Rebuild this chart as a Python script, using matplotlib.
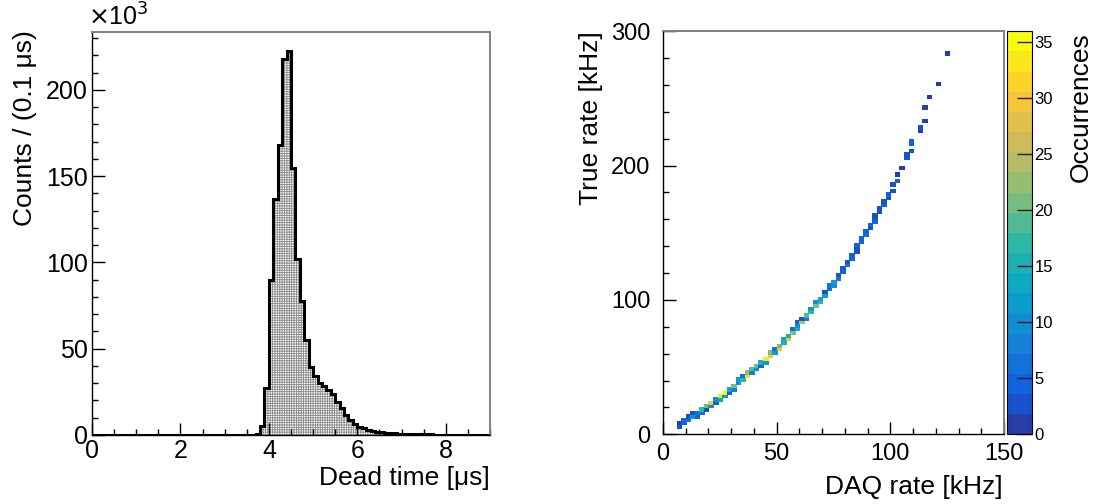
import numpy as np
import matplotlib
matplotlib.use("Agg")
import matplotlib.pyplot as plt
from matplotlib.colors import LinearSegmentedColormap, ListedColormap, BoundaryNorm
from matplotlib.ticker import MultipleLocator

plt.rcParams['font.family'] = ['Liberation Sans', 'DejaVu Sans']
plt.rcParams['hatch.linewidth'] = 0.6

# ---------------- data: left histogram (counts in thousands per 0.1 us bin, 0..9 us)
dead_time_edges = np.round(np.arange(0, 9.0001, 0.1), 2)
dead_time_counts_k = [0.0] * 37 + [
    0.4, 5.0, 27.0, 90.0, 136.5, 168.0, 218.0, 222.6, 154.5, 102.0,
    77.8, 55.0, 39.5, 34.0, 30.0, 28.4, 26.0, 23.6, 19.3, 15.4,
    11.6, 8.7, 6.4, 4.8, 3.9, 2.9, 2.5, 2.0, 1.6, 1.4,
    1.2, 1.0, 0.8, 0.7, 0.6, 0.5, 0.45, 0.4, 0.35, 0.3,
    0.27, 0.24, 0.2, 0.18, 0.16, 0.14, 0.12, 0.1, 0.09, 0.08,
    0.07, 0.06, 0.05]

# ---------------- data: right 2D histogram cells (bin centres, occurrences)
daq_rate = [7, 7, 9, 9, 11, 11, 13, 13, 15, 15,
            17, 17, 19, 19, 21, 21, 23, 23, 25, 25,
            27, 27, 29, 29, 31, 31, 33, 33, 35, 35,
            37, 37, 39, 39, 41, 41, 43, 43, 45, 45,
            47, 47, 49, 49, 51, 51, 53, 53, 55, 55,
            57, 57, 59, 59, 59, 61, 61, 63, 63, 65,
            65, 67, 67, 69, 69, 71, 71, 73, 73, 75,
            75, 77, 77, 79, 79, 81, 81, 83, 83, 85,
            85, 85, 87, 87, 89, 89, 91, 91, 93, 93,
            93, 95, 95, 97, 97, 99, 99, 101, 101, 103,
            103, 105, 107, 107, 109, 109, 109, 113, 113, 115,
            115, 117, 121, 125]
true_rate = [6.25, 8.75, 8.75, 11.25, 11.25, 13.75, 13.75, 16.25, 16.25, 13.75,
             18.75, 16.25, 18.75, 21.25, 23.75, 21.25, 26.25, 23.75, 26.25, 28.75,
             31.25, 28.75, 31.25, 33.75, 36.25, 33.75, 38.75, 41.25, 41.25, 43.75,
             43.75, 46.25, 46.25, 48.75, 51.25, 48.75, 53.75, 51.25, 56.25, 53.75,
             58.75, 61.25, 63.75, 61.25, 63.75, 66.25, 68.75, 71.25, 71.25, 73.75,
             76.25, 78.75, 78.75, 81.25, 83.75, 83.75, 86.25, 88.75, 86.25, 91.25,
             93.75, 96.25, 98.75, 98.75, 101.25, 103.75, 106.25, 108.75, 111.25, 111.25,
             113.75, 116.25, 118.75, 121.25, 123.75, 126.25, 128.75, 131.25, 133.75, 136.25,
             138.75, 141.25, 143.75, 146.25, 148.75, 151.25, 153.75, 156.25, 158.75, 161.25,
             163.75, 166.25, 168.75, 171.25, 173.75, 176.25, 178.75, 181.25, 186.25, 188.75,
             193.75, 198.75, 206.25, 208.75, 211.25, 216.25, 218.75, 226.25, 228.75, 233.75,
             243.75, 251.25, 261.25, 283.75]
occurrences = [2, 1, 5, 4, 6, 3, 11, 2, 7, 4,
               17, 6, 2, 20, 30, 9, 9, 5, 13, 33,
               35, 12, 4, 13, 21, 8, 9, 12, 17, 6,
               31, 22, 8, 19, 20, 10, 16, 5, 34, 11,
               29, 20, 7, 12, 29, 21, 16, 13, 30, 16,
               20, 7, 16, 9, 5, 25, 2, 19, 6, 17,
               12, 21, 10, 17, 13, 12, 2, 7, 6, 9,
               12, 6, 2, 5, 4, 7, 3, 4, 5, 3,
               2, 4, 5, 5, 6, 4, 2, 5, 4, 2,
               3, 2, 3, 4, 2, 3, 5, 2, 2, 4,
               1, 1, 2, 3, 2, 5, 4, 1, 2, 1,
               1, 1, 1, 1]

daq_edges = np.arange(0, 150.001, 2.0)
true_edges = np.arange(0, 300.001, 2.5)
z_levels = np.linspace(0, 36, 21)

# ---------------- figure layout (pixel based)
W, H = 1099, 504
fig = plt.figure(figsize=(W / 100, H / 100), dpi=100)

def rect(x0, y0, x1, y1):
    return [x0 / W, 1 - y1 / H, (x1 - x0) / W, (y1 - y0) / H]

ax1 = fig.add_axes(rect(92, 32, 490, 435))
ax2 = fig.add_axes(rect(663, 31.3, 1004, 434.3))
cax = fig.add_axes(rect(1006.5, 31.3, 1031.5, 434.3))

def root_style(ax, lab_size, pad):
    for s in ('top', 'right'):
        ax.spines[s].set_color('#808080')
        ax.spines[s].set_linewidth(1.4)
    for s in ('left', 'bottom'):
        ax.spines[s].set_color('black')
        ax.spines[s].set_linewidth(1.0)
    ax.tick_params(which='both', direction='in', top=False, right=False,
                   labelsize=lab_size, pad=pad, width=1.0, color='black')
    ax.tick_params(which='major', length=9)
    ax.tick_params(which='minor', length=4.5)

# ---------------- left panel
vals = np.array(dead_time_counts_k)
ax1.stairs(vals, dead_time_edges, fill=True, facecolor='white', edgecolor='#8a8a8a',
           hatch='+' * 7, linewidth=0)
ax1.stairs(vals, dead_time_edges, color='black', linewidth=2.2)
ax1.set_xlim(0, 9)
ax1.set_ylim(0, 233.5)
ax1.xaxis.set_major_locator(MultipleLocator(2))
ax1.xaxis.set_minor_locator(MultipleLocator(0.5))
ax1.yaxis.set_major_locator(MultipleLocator(50))
ax1.yaxis.set_minor_locator(MultipleLocator(10))
root_style(ax1, 18, 3)

fig.text(88 / W, 1 - 17 / H, r'$\times$10$^{3}$', fontsize=18, ha='left', va='center')
fig.text(25 / W, 1 - 30 / H, 'Counts / (0.1 μs)', rotation=90, fontsize=19,
         ha='center', va='top')
fig.text(490 / W, 1 - 478 / H, 'Dead time [μs]', fontsize=19, ha='right', va='center')

# ---------------- right panel
stops = [0.0, 0.125, 0.25, 0.375, 0.5, 0.625, 0.75, 0.875, 1.0]
red = [0.2082, 0.0592, 0.0780, 0.0232, 0.1802, 0.5301, 0.8186, 0.9956, 0.9764]
green = [0.1664, 0.3599, 0.5041, 0.6419, 0.7178, 0.7492, 0.7328, 0.7862, 0.9832]
blue = [0.5293, 0.8684, 0.8385, 0.7914, 0.6425, 0.4662, 0.3499, 0.1968, 0.0539]
bird = LinearSegmentedColormap.from_list('bird', list(zip(stops, zip(red, green, blue))))
ncont = len(z_levels) - 1
cmap = ListedColormap([bird((i + 0.99) / ncont) for i in range(ncont)])
norm = BoundaryNorm(z_levels, ncont)

H2, _, _ = np.histogram2d(daq_rate, true_rate, bins=[daq_edges, true_edges], weights=occurrences)
Hm = np.ma.masked_equal(H2.T, 0)
mesh = ax2.pcolormesh(daq_edges, true_edges, Hm, cmap=cmap, norm=norm,
                      edgecolors='face', linewidth=0.7)
ax2.set_xlim(0, 150)
ax2.set_ylim(0, 300)
ax2.xaxis.set_major_locator(MultipleLocator(50))
ax2.xaxis.set_minor_locator(MultipleLocator(10))
ax2.yaxis.set_major_locator(MultipleLocator(100))
ax2.yaxis.set_minor_locator(MultipleLocator(20))
root_style(ax2, 17, 6)
ax2.tick_params(axis='y', pad=9)

fig.text(591 / W, 1 - 31 / H, 'True rate [kHz]', rotation=90, fontsize=19,
         ha='center', va='top')
fig.text(1003 / W, 1 - 487 / H, 'DAQ rate [kHz]', fontsize=19, ha='right', va='center')

cb = fig.colorbar(mesh, cax=cax, ticks=range(0, 36, 5))
cb.outline.set_linewidth(0.8)
cb.solids.set_edgecolor('face')
cb.solids.set_linewidth(0)
cax.tick_params(direction='in', length=11, width=1.0, labelsize=12, pad=2, color='#202020')
cax.minorticks_off()
fig.text(1081 / W, 1 - 32 / H, 'Occurrences', rotation=90, fontsize=19,
         ha='center', va='top')

fig.savefig('out.png', dpi=100)
